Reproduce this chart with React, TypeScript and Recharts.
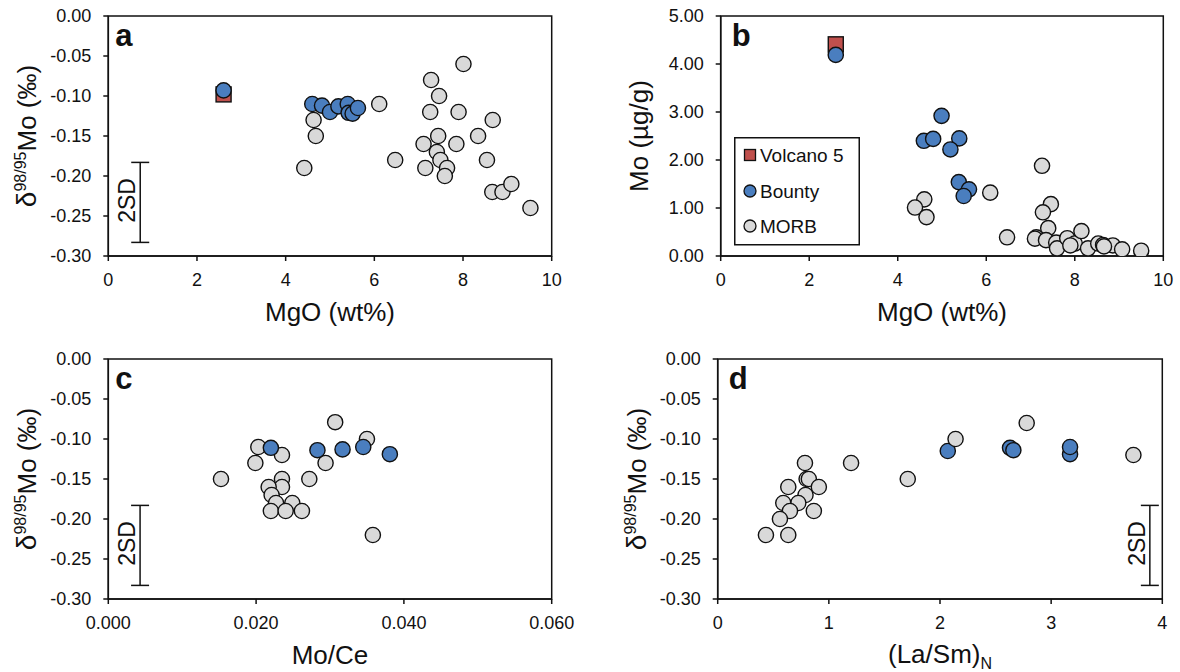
import React from 'react';
import { ScatterChart, Scatter, XAxis, YAxis, ReferenceArea, ErrorBar } from 'recharts';

type Pt = [number, number];

// a: MgO (wt%) vs d98/95Mo
const volcanoA: Pt[] = [[2.6, -0.098]];
const bountyA: Pt[] = [
  [2.6, -0.093], [4.6, -0.11], [4.82, -0.112], [5.0, -0.12], [5.19, -0.113],
  [5.4, -0.11], [5.42, -0.121], [5.51, -0.122], [5.63, -0.115],
];
const morbA: Pt[] = [
  [4.42, -0.19], [4.63, -0.13], [4.68, -0.15], [6.11, -0.11], [6.47, -0.18],
  [7.28, -0.08], [7.46, -0.1], [7.26, -0.12], [7.9, -0.12], [8.01, -0.06],
  [8.67, -0.13], [8.34, -0.15], [7.44, -0.15], [7.11, -0.16], [7.85, -0.16],
  [7.41, -0.17], [7.49, -0.18], [7.15, -0.19], [7.64, -0.19], [7.59, -0.2],
  [8.54, -0.18], [8.66, -0.22], [8.89, -0.22], [9.09, -0.21], [9.52, -0.24],
];

// b: MgO (wt%) vs Mo (ug/g)
const volcanoB: Pt[] = [[2.6, 4.41]];
const bountyB: Pt[] = [
  [2.6, 4.19], [4.99, 2.92], [4.59, 2.4], [4.8, 2.44], [5.39, 2.45],
  [5.19, 2.22], [5.38, 1.54], [5.61, 1.39], [5.49, 1.25],
];
const morbB: Pt[] = [
  [7.26, 1.88], [7.46, 1.08], [7.28, 0.91], [6.09, 1.32], [4.6, 1.18],
  [4.39, 1.01], [4.65, 0.81], [6.47, 0.39], [7.4, 0.58], [7.13, 0.39],
  [7.1, 0.36], [7.35, 0.33], [7.58, 0.28], [7.6, 0.16], [7.83, 0.37],
  [8.0, 0.26], [8.15, 0.52], [8.3, 0.16], [8.53, 0.26], [8.64, 0.23],
  [8.86, 0.22], [9.07, 0.14], [9.5, 0.11], [7.9, 0.22], [8.66, 0.2],
];

// c: Mo/Ce vs d98/95Mo
const bountyC: Pt[] = [
  [0.022, -0.111], [0.0283, -0.114], [0.0317, -0.113], [0.0345, -0.11], [0.0381, -0.119],
];
const morbC: Pt[] = [
  [0.01525, -0.15], [0.0203, -0.11], [0.0235, -0.12], [0.0199, -0.13], [0.0307, -0.079],
  [0.035, -0.1], [0.0294, -0.13], [0.0272, -0.15], [0.0235, -0.15], [0.0235, -0.16],
  [0.0217, -0.16], [0.0221, -0.17], [0.0249, -0.18], [0.0227, -0.18], [0.022, -0.19],
  [0.024, -0.19], [0.0262, -0.19], [0.0358, -0.22],
];

// d: (La/Sm)N vs d98/95Mo
const bountyD: Pt[] = [
  [2.07, -0.115], [2.63, -0.111], [2.66, -0.114], [3.17, -0.119], [3.17, -0.11],
];
const morbD: Pt[] = [
  [2.14, -0.1], [2.78, -0.08], [3.74, -0.12], [1.2, -0.13], [1.71, -0.15],
  [0.785, -0.13], [0.8, -0.15], [0.82, -0.15], [0.91, -0.16], [0.635, -0.16],
  [0.79, -0.17], [0.725, -0.18], [0.59, -0.18], [0.65, -0.19], [0.865, -0.19],
  [0.56, -0.2], [0.434, -0.22], [0.635, -0.22],
];

const mgoTicks = [0, 2, 4, 6, 8, 10];
const deltaTicks = [0, -0.05, -0.1, -0.15, -0.2, -0.25, -0.3];
const moTicks = [0, 1, 2, 3, 4, 5];
const moCeTicks = [0, 0.02, 0.04, 0.06];
const laSmTicks = [0, 1, 2, 3, 4];

// 2SD bar: centre and half-length
const sdCentre = -0.233;
const sdHalf = 0.05;

const RED = '#c0504d';
const BLUE = '#4a7ebf';
const GREY = '#d9d9d9';
const FONT = '"Liberation Sans", Arial, Helvetica, sans-serif';
const TITLE = 26;

const toXY = (pts: Pt[]) => pts.map(([x, y]) => ({ x, y }));

const dot = (fill: string) => (p: any) => (
  <circle cx={p.cx} cy={p.cy} r={7.6} fill={fill} stroke="#111" strokeWidth={1.4} />
);
const square = (p: any) => (
  <rect x={p.cx - 7.5} y={p.cy - 7.5} width={15} height={15} fill={RED} stroke="#111" strokeWidth={1.4} />
);
const sdText = (p: any) => (
  <text
    x={p.cx - 5}
    y={p.cy - 2}
    transform={`rotate(-90 ${p.cx - 5} ${p.cy - 2})`}
    textAnchor="middle"
    fontSize={23}
    fill="#111"
  >
    2SD
  </text>
);

const DeltaTitle = ({ x, y }: { x: number; y: number }) => (
  <text x={x} y={y} transform={`rotate(-90 ${x} ${y})`} textAnchor="middle" fontSize={TITLE} fill="#111">
    <tspan fontSize={28}>δ</tspan>
    <tspan fontSize={16} dy={-10}>98/95</tspan>
    <tspan dy={10}>Mo (‰)</tspan>
  </text>
);

interface SeriesDef {
  name: string;
  data: Pt[];
  shape: any;
}

interface PanelProps {
  left: number;
  top: number;
  plot: { l: number; r: number; t: number; b: number };
  xDomain: [number, number];
  xTicks: number[];
  xDigits: number;
  yDomain: [number, number];
  yTicks: number[];
  series: SeriesDef[];
  sdX?: number;
  letter: string;
  xTitle: React.ReactNode;
  yTitle: React.ReactNode;
}

const W = 590;
const H = 336;

const Panel: React.FC<PanelProps> = ({
  left, top, plot, xDomain, xTicks, xDigits, yDomain, yTicks, series, sdX, letter, xTitle, yTitle,
}) => {
  const xAxisH = 40;
  return (
    <div style={{ position: 'absolute', left, top, width: W, height: H }}>
      <ScatterChart
        width={W}
        height={H}
        margin={{ top: plot.t, right: W - plot.r, bottom: H - plot.b - xAxisH, left: 0 }}
      >
        <XAxis
          type="number"
          dataKey="x"
          domain={xDomain}
          ticks={xTicks}
          allowDataOverflow
          height={xAxisH}
          tickFormatter={(v: number) => v.toFixed(xDigits)}
          tick={{ fill: '#111', fontSize: 18 }}
          tickSize={5}
          tickMargin={12}
          axisLine={{ stroke: '#111', strokeWidth: 1.5 }}
          tickLine={{ stroke: '#111', strokeWidth: 1.5 }}
          label={{ content: () => xTitle }}
        />
        <YAxis
          type="number"
          dataKey="y"
          domain={yDomain}
          ticks={yTicks}
          allowDataOverflow
          width={plot.l}
          tickFormatter={(v: number) => v.toFixed(2)}
          tick={{ fill: '#111', fontSize: 18 }}
          tickSize={5}
          tickMargin={12}
          axisLine={{ stroke: '#111', strokeWidth: 1.5 }}
          tickLine={{ stroke: '#111', strokeWidth: 1.5 }}
          label={{ content: () => yTitle }}
        />
        <ReferenceArea
          x1={xDomain[0]}
          x2={xDomain[1]}
          y1={yDomain[0]}
          y2={yDomain[1]}
          fill="none"
          stroke="#111"
          strokeWidth={1.5}
          label={{
            content: () => (
              <text x={plot.l + (letter === 'a' || letter === 'c' ? 7 : 11)} y={plot.t + 30} fontSize={31} fontWeight="bold" fill="#111">
                {letter}
              </text>
            ),
          }}
        />
        {sdX !== undefined && (
          <Scatter
            name="2SD"
            data={[{ x: sdX, y: sdCentre, err: sdHalf }]}
            shape={sdText}
            isAnimationActive={false}
          >
            <ErrorBar dataKey="err" direction="y" width={9} stroke="#111" strokeWidth={1.5} isAnimationActive={false} />
          </Scatter>
        )}
        {series.map((s) => (
          <Scatter key={s.name} name={s.name} data={toXY(s.data)} shape={s.shape} isAnimationActive={false} />
        ))}
      </ScatterChart>
    </div>
  );
};

const Legend: React.FC = () => {
  const rows = [
    { label: 'Volcano 5', kind: 'square', fill: RED, y: 18 },
    { label: 'Bounty', kind: 'circle', fill: BLUE, y: 54 },
    { label: 'MORB', kind: 'circle', fill: GREY, y: 89 },
  ];
  return (
    <svg
      style={{ position: 'absolute', left: 734, top: 137 }}
      width={126}
      height={109}
    >
      <rect x={0.75} y={0.75} width={124.5} height={107} fill="#fff" stroke="#111" strokeWidth={1.5} />
      {rows.map((r) => (
        <g key={r.label}>
          {r.kind === 'square' ? (
            <rect x={10.5} y={r.y - 5.5} width={11} height={11} fill={r.fill} stroke="#111" strokeWidth={1.3} />
          ) : (
            <circle cx={16} cy={r.y} r={6} fill={r.fill} stroke="#111" strokeWidth={1.3} />
          )}
          <text x={26} y={r.y + 7} fontSize={19} fill="#111" fontFamily={FONT}>
            {r.label}
          </text>
        </g>
      ))}
    </svg>
  );
};

export default function App() {
  return (
    <div
      style={{
        position: 'absolute',
        left: 0,
        top: 0,
        width: 1180,
        height: 672,
        background: '#fff',
        fontFamily: FONT,
        overflow: 'hidden',
      }}
    >
      <Panel
        left={0}
        top={0}
        plot={{ l: 108.3, r: 551.7, t: 16, b: 256 }}
        xDomain={[0, 10]}
        xTicks={mgoTicks}
        xDigits={0}
        yDomain={[-0.3, 0]}
        yTicks={deltaTicks}
        sdX={0.72}
        letter="a"
        series={[
          { name: 'MORB', data: morbA, shape: dot(GREY) },
          { name: 'Volcano 5', data: volcanoA, shape: square },
          { name: 'Bounty', data: bountyA, shape: dot(BLUE) },
        ]}
        xTitle={<text x={330} y={321} textAnchor="middle" fontSize={TITLE} fill="#111">MgO (wt%)</text>}
        yTitle={<DeltaTitle x={36} y={136} />}
      />
      <Panel
        left={590}
        top={0}
        plot={{ l: 130.7, r: 573.3, t: 16, b: 256 }}
        xDomain={[0, 10]}
        xTicks={mgoTicks}
        xDigits={0}
        yDomain={[0, 5]}
        yTicks={moTicks}
        letter="b"
        series={[
          { name: 'MORB', data: morbB, shape: dot(GREY) },
          { name: 'Volcano 5', data: volcanoB, shape: square },
          { name: 'Bounty', data: bountyB, shape: dot(BLUE) },
        ]}
        xTitle={<text x={352} y={321} textAnchor="middle" fontSize={TITLE} fill="#111">MgO (wt%)</text>}
        yTitle={
          <text x={58} y={136} transform="rotate(-90 58 136)" textAnchor="middle" fontSize={TITLE} fill="#111">
            Mo (µg/g)
          </text>
        }
      />
      <Panel
        left={0}
        top={336}
        plot={{ l: 108.3, r: 551.7, t: 23, b: 263 }}
        xDomain={[0, 0.06]}
        xTicks={moCeTicks}
        xDigits={3}
        yDomain={[-0.3, 0]}
        yTicks={deltaTicks}
        sdX={0.0043}
        letter="c"
        series={[
          { name: 'MORB', data: morbC, shape: dot(GREY) },
          { name: 'Bounty', data: bountyC, shape: dot(BLUE) },
        ]}
        xTitle={<text x={330} y={328} textAnchor="middle" fontSize={TITLE} fill="#111">Mo/Ce</text>}
        yTitle={<DeltaTitle x={36} y={143} />}
      />
      <Panel
        left={590}
        top={336}
        plot={{ l: 127.7, r: 572.3, t: 23, b: 263 }}
        xDomain={[0, 4]}
        xTicks={laSmTicks}
        xDigits={0}
        yDomain={[-0.3, 0]}
        yTicks={deltaTicks}
        sdX={3.888}
        letter="d"
        series={[
          { name: 'Bounty', data: bountyD, shape: dot(BLUE) },
          { name: 'MORB', data: morbD, shape: dot(GREY) },
        ]}
        xTitle={
          <text x={350} y={327} textAnchor="middle" fontSize={TITLE} fill="#111">
            <tspan>(La/Sm)</tspan>
            <tspan fontSize={16} dy={6}>N</tspan>
          </text>
        }
        yTitle={<DeltaTitle x={56} y={143} />}
      />
      <Legend />
    </div>
  );
}
